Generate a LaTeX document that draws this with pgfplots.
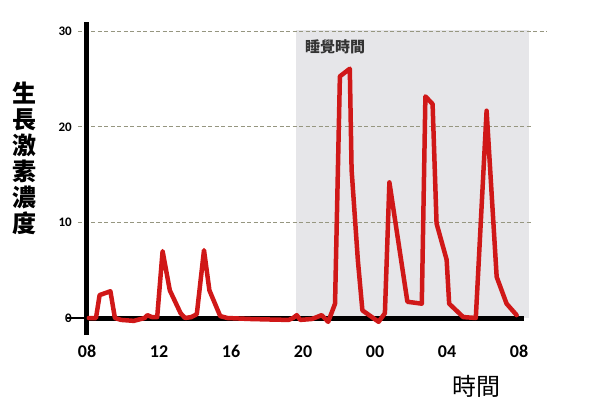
\documentclass[border=0pt]{standalone}
\usepackage{fontspec}
\setmainfont{Carlito}
\newfontfamily\cjk{Noto Sans CJK TC}
\usepackage{pgfplots}
\pgfplotsset{compat=1.18}
\definecolor{hormone}{RGB}{208,24,24}
\definecolor{sleepbg}{RGB}{230,230,233}
\definecolor{gridc}{RGB}{150,150,128}
\begin{document}
\begin{tikzpicture}[x=1pt,y=1pt]
  \useasboundingbox (0,0) rectangle (600,407);
  \begin{axis}[
    at={(78pt,71.8pt)}, anchor=south west,
    scale only axis, width=469.8pt, height=315.2pt,
    xmin=7.5, xmax=33.6, ymin=-1.8, ymax=31.2,
    clip=false,
    axis line style={draw=none},
    major tick length=0pt,
    xtick={8,12,16,20,24,28,32},
    xticklabels={08,12,16,20,00,04,08},
    ytick={0,10,20,30},
    yticklabels={0,10,20,30},
    xticklabel style={font=\bfseries\fontsize{18}{18}\selectfont, anchor=north, inner sep=0pt, yshift=-10pt},
    yticklabel style={font=\bfseries\fontsize{13}{13}\selectfont, anchor=east, inner sep=0pt, xshift=-6pt},
    ylabel={生\\長\\激\\素\\濃\\度},
    ylabel style={at={(axis description cs:-0.113,0.56)}, rotate=-90, anchor=center, align=center,
      font=\cjk\bfseries\fontsize{24}{26}\selectfont},
    xlabel={時間},
    xlabel style={at={(axis description cs:0.849,-0.162)}, anchor=center,
      font=\cjk\fontsize{24}{26}\selectfont},
  ]
    % sleep period
    \addplot[fill=sleepbg, draw=none] coordinates {(19.6,0) (19.6,30.2) (32.55,30.2) (32.55,0)} -- cycle;
    % grid lines
    \addplot[gridc, line width=1pt, dash pattern=on 4pt off 2.5pt] coordinates {(7.5,30) (33.55,30)};
    \addplot[gridc, line width=1pt, dash pattern=on 4pt off 2.5pt] coordinates {(7.5,20) (32.7,20)};
    \addplot[gridc, line width=1pt, dash pattern=on 4pt off 2.5pt] coordinates {(7.5,10) (32.7,10)};
    % axis lines
    \addplot[black, line width=1.8pt] coordinates {(6.9,0) (8,0)};
    \addplot[black, line width=5pt] coordinates {(8,0) (32.3,0)};
    \addplot[black, line width=5pt] coordinates {(8,-1.8) (8,31.0)};
    % growth hormone
    \addplot[hormone, line width=4.5pt, line join=round, line cap=round] coordinates {
      (8.1,0) (8.5,0) (8.7,2.4) (9.3,2.8) (9.55,0) (9.9,-0.2) (10.6,-0.3)
      (11.2,0) (11.35,0.3) (11.6,0.1) (11.9,0.1) (12.2,7.0) (12.6,2.9)
      (13.2,0.5) (13.45,0) (13.8,0.1) (14.1,0.4) (14.5,7.1) (14.8,2.9)
      (15.4,0.2) (15.8,0) (17,-0.1) (18,-0.15) (19.2,-0.2) (19.45,0)
      (19.65,0.3) (19.85,-0.2) (20.5,-0.1) (21.04,0.3) (21.4,-0.4)
      (21.78,1.5) (22.05,25.3) (22.6,26.1) (22.7,15.5) (23.05,6.0)
      (23.3,0.8) (24.2,-0.4) (24.55,0.5) (24.8,14.2) (25.8,1.7)
      (26.6,1.5) (26.8,23.2) (27.2,22.4) (27.42,9.9) (27.98,6.1)
      (28.12,1.5) (28.9,0.1) (29.6,0) (30.2,21.7) (30.76,4.3)
      (31.31,1.5) (31.87,0.3)
    };
    \node[font=\cjk\bfseries\fontsize{15}{15}\selectfont, text=black!80] at (axis cs:21.78,28.4) {睡覺時間};
  \end{axis}
\end{tikzpicture}
\end{document}
